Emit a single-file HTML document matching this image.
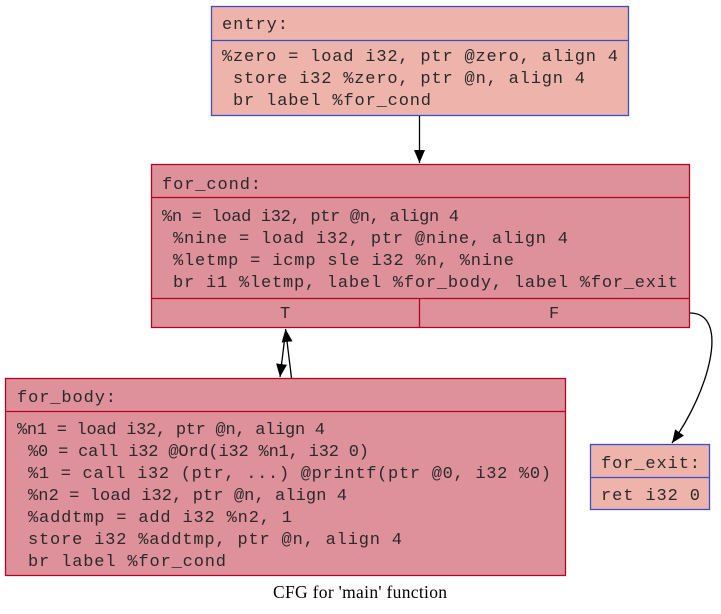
<!DOCTYPE html>
<html><head><meta charset="utf-8"><style>
html,body{margin:0;padding:0;background:#fff;width:721px;height:614px;overflow:hidden}
svg text.m{font-family:"Liberation Mono",monospace;font-size:17px;fill:#2a2a2a;white-space:pre}
</style></head><body>
<svg width="721" height="614" viewBox="0 0 721 614" xmlns="http://www.w3.org/2000/svg">
<defs><marker id="a" markerWidth="14" markerHeight="12" refX="13" refY="5.5" orient="auto" markerUnits="userSpaceOnUse"><path d="M0,0 L13,5.5 L0,11 z" fill="#000"/></marker></defs>
<g stroke-width="1.3">
<rect x="211.5" y="6.5" width="417" height="109" fill="#eeb3ab" stroke="#3d50c3"/>
<line x1="211.5" y1="40.5" x2="628.5" y2="40.5" stroke="#3d50c3"/>
<rect x="151.5" y="164.5" width="538" height="163" fill="#de909b" stroke="#b40426"/>
<line x1="151.5" y1="197.5" x2="689.5" y2="197.5" stroke="#b40426"/>
<line x1="151.5" y1="298.5" x2="689.5" y2="298.5" stroke="#b40426"/>
<line x1="419.5" y1="298.5" x2="419.5" y2="327.5" stroke="#b40426"/>
<rect x="5.5" y="378.5" width="560" height="197" fill="#de909b" stroke="#b40426"/>
<line x1="5.5" y1="411.5" x2="565.5" y2="411.5" stroke="#b40426"/>
<rect x="590.5" y="444.5" width="119" height="65" fill="#eeb3ab" stroke="#3d50c3"/>
<line x1="590.5" y1="477.5" x2="709.5" y2="477.5" stroke="#3d50c3"/>
</g>
<g stroke="#000" stroke-width="1.3" fill="none">
<line x1="419.5" y1="116" x2="419.5" y2="163" marker-end="url(#a)"/>
<line x1="284.5" y1="340" x2="280" y2="377" marker-end="url(#a)"/>
<line x1="291.5" y1="378" x2="285.5" y2="329" marker-end="url(#a)"/>
<path d="M690,313 C730,313 710,390 672,443" marker-end="url(#a)"/>
</g>
<text class="m" x="222" y="29" textLength="66">entry:</text>
<text class="m" x="222" y="61" textLength="396">%zero = load i32, ptr @zero, align 4</text>
<text class="m" x="233" y="83" textLength="352">store i32 %zero, ptr @n, align 4</text>
<text class="m" x="233" y="105" textLength="198">br label %for_cond</text>
<text class="m" x="162" y="189" textLength="99">for_cond:</text>
<text class="m" x="162" y="221" textLength="297">%n = load i32, ptr @n, align 4</text>
<text class="m" x="173" y="243" textLength="395">%nine = load i32, ptr @nine, align 4</text>
<text class="m" x="173" y="265" textLength="341">%letmp = icmp sle i32 %n, %nine</text>
<text class="m" x="173" y="287" textLength="505">br i1 %letmp, label %for_body, label %for_exit</text>
<text class="m" x="280" y="318">T</text>
<text class="m" x="549" y="318">F</text>
<text class="m" x="17" y="402" textLength="99">for_body:</text>
<text class="m" x="17" y="434" textLength="308">%n1 = load i32, ptr @n, align 4</text>
<text class="m" x="28" y="456" textLength="341">%0 = call i32 @Ord(i32 %n1, i32 0)</text>
<text class="m" x="28" y="478" textLength="523">%1 = call i32 (ptr, ...) @printf(ptr @0, i32 %0)</text>
<text class="m" x="28" y="500" textLength="319">%n2 = load i32, ptr @n, align 4</text>
<text class="m" x="28" y="522" textLength="264">%addtmp = add i32 %n2, 1</text>
<text class="m" x="28" y="544" textLength="374">store i32 %addtmp, ptr @n, align 4</text>
<text class="m" x="28" y="566" textLength="198">br label %for_cond</text>
<text class="m" x="601" y="468" textLength="99">for_exit:</text>
<text class="m" x="601" y="500" textLength="99">ret i32 0</text>
<text x="360" y="598" text-anchor="middle" font-family="Liberation Serif, serif" font-size="17.5" fill="#000" textLength="174">CFG for 'main' function</text>
</svg>
</body></html>
